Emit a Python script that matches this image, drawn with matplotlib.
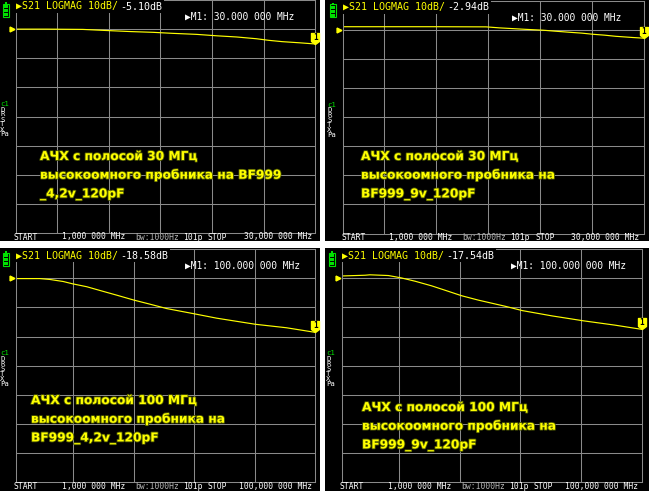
import matplotlib
matplotlib.use("Agg")
import matplotlib.pyplot as plt
import matplotlib.patheffects as pe
from matplotlib.patches import Rectangle
from matplotlib.path import Path
from matplotlib.transforms import blended_transform_factory

W, H = 649, 491

# S21 traces (MHz, dB)
freq_30_4v = [1, 4, 7.5, 9.3, 12.2, 14.3, 16.2, 18.5, 20.5, 22.4, 24.3, 25.5, 26.8, 28.5, 30]
s21_30_4v = [0.0, 0.0, -0.1, -0.4, -0.85, -1.1, -1.45, -1.8, -2.3, -2.7, -3.3, -3.85, -4.3, -4.7, -5.10]

freq_30_9v = [1, 5, 10, 14.8, 16.1, 18.6, 20.3, 21.5, 22.8, 24, 25.1, 26.2, 27.3, 28.9, 30]
s21_30_9v = [1.0, 1.0, 1.0, 0.95, 0.6, 0.1, -0.2, -0.55, -0.9, -1.2, -1.6, -1.9, -2.3, -2.7, -2.94]

freq_100_4v = [1, 9, 12.3, 16.7, 19.8, 24.5, 28.9, 34.4, 40.1, 45.4, 50.9, 60, 67.4, 80.2, 90.5, 100]
s21_100_4v = [-0.1, -0.1, -0.4, -1.1, -1.9, -2.9, -4.2, -5.8, -7.5, -8.9, -10.4, -12.2, -13.7, -15.8, -17.0, -18.58]

freq_100_9v = [1, 8.7, 10.3, 16.4, 20.6, 25.2, 30.7, 35.1, 40.6, 46.1, 54.9, 60.6, 70.3, 80.7, 91.2, 100]
s21_100_9v = [0.8, 1.05, 1.2, 0.95, 0.15, -1.0, -2.6, -4.1, -6.0, -7.5, -9.6, -11.1, -12.9, -14.6, -16.1, -17.54]

gridf_30 = [5, 10, 15, 20, 25]
gridf_100 = [20, 40, 60, 80]

notes_30_4v = ["АЧХ с полосой 30 МГц", "высокоомного пробника на BF999", "_4,2v_120pF"]
notes_30_9v = ["АЧХ с полосой 30 МГц", "высокоомного пробника на", "BF999_9v_120pF"]
notes_100_4v = ["АЧХ с полосой 100 МГц", "высокоомного пробника на", "BF999_4,2v_120pF"]
notes_100_9v = ["АЧХ с полосой 100 МГц", "высокоомного пробника на", "BF999_9v_120pF"]

side_labels = ["D", "R", "S", "T", "X", "Pa"]
points = 101

YEL = "#ffff00"
GRID = "#8a8a8a"
GREEN = "#00e000"
MONO = ["DejaVu Sans Mono", "DejaVu Sans"]

# (freqs, s21, grid freqs, notes, panel px box, grid px box, note x / first baseline)
screens = [
    (freq_30_4v, s21_30_4v, gridf_30, notes_30_4v, (0, 0, 319.5, 241), (15.7, 0, 315.3, 233), (40, 160)),
    (freq_30_9v, s21_30_9v, gridf_30, notes_30_9v, (325, 0, 649, 241), (342.7, 0.5, 644, 233.5), (361, 160)),
    (freq_100_4v, s21_100_4v, gridf_100, notes_100_4v, (0, 248, 319.5, 491), (15.7, 249.2, 315.3, 482), (31, 404)),
    (freq_100_9v, s21_100_9v, gridf_100, notes_100_9v, (325, 248, 649, 491), (341.7, 249.2, 641.7, 482), (362, 411)),
]

flag = Path([(0, 0), (-4, 3), (-4, 11), (4, 11), (4, 3), (0, 0)],
            [Path.MOVETO, Path.LINETO, Path.LINETO, Path.LINETO, Path.LINETO, Path.CLOSEPOLY])


def px_axes(fig, x0, y0, x1, y1, z):
    return fig.add_axes([x0 / W, 1 - y1 / H, (x1 - x0) / W, (y1 - y0) / H], zorder=z)


fig = plt.figure(figsize=(W / 100, H / 100), dpi=100, facecolor="white")

for freqs, s21, gridf, notes, pbox, gbox, npos in screens:
    px0, py0, px1, py1 = pbox
    gx0, gy0, gx1, gy1 = gbox

    bg = px_axes(fig, px0, py0, px1, py1, 0)
    bg.set_facecolor("black")
    bg.set_xticks([])
    bg.set_yticks([])
    for sp in bg.spines.values():
        sp.set_visible(False)

    ax = px_axes(fig, gx0, gy0, gx1, gy1, 1)
    ax.set_facecolor("none")
    start, stop = freqs[0], freqs[-1]
    ax.set_xlim(start, stop)
    ax.set_ylim(-70, 10)
    ax.set_xticks(gridf)
    ax.set_yticks(range(-60, 10, 10))
    ax.tick_params(length=0, labelbottom=False, labelleft=False)
    ax.grid(True, color=GRID, lw=0.75)
    for sp in ax.spines.values():
        sp.set_color(GRID)
        sp.set_linewidth(0.75)

    ax.plot(freqs, s21, color=YEL, lw=0.85)
    ref_tr = blended_transform_factory(ax.transAxes, ax.transData)
    ax.plot([-0.011], [0], marker=">", ms=3.5, color=YEL, transform=ref_tr, clip_on=False)
    ax.plot([freqs[-1]], [s21[-1]], marker=flag, ms=15.8, color=YEL, clip_on=False, zorder=5)
    ax.annotate("1", xy=(freqs[-1], s21[-1]), xytext=(0, 4.9), textcoords="offset points",
                ha="center", va="center", fontsize=5.5, fontweight="bold", color="black",
                family=MONO, zorder=6, annotation_clip=False)

    # overlay in pixel units, origin at grid top-left, y downwards
    ov = px_axes(fig, px0, py0, px1, py1, 2)
    ov.set_facecolor("none")
    ov.set_xlim(px0 - gx0, px1 - gx0)
    ov.set_ylim(py1 - gy0, py0 - gy0)
    ov.axis("off")

    # battery
    ov.add_patch(Rectangle((-11.0, 2.2), 2.6, 1.4, fc=GREEN, ec="none"))
    ov.add_patch(Rectangle((-12.6, 3.6), 6.0, 13.2, fill=False, ec=GREEN, lw=0.8))
    for k in range(3):
        ov.add_patch(Rectangle((-11.6, 5.0 + k * 4.0), 4.0, 3.0, fc=GREEN, ec="none"))

    hdr_kw = dict(fontsize=7.2, family=MONO, va="center", ha="left")
    ov.text(0.3, 6.5, "\u25b6S21 LOGMAG 10dB/", color=YEL,
            bbox=dict(fc="black", ec="none", pad=1.2), **hdr_kw)
    ov.text(104.5, 6.5, f"{s21[-1]:.2f}dB", color="white",
            bbox=dict(fc="black", ec="none", pad=1.2), **hdr_kw)
    ov.text(169.3, 16.7, f"\u25b6M1: {stop}.000 000 MHz", color="white",
            fontsize=6.9, family=MONO, va="center", ha="left")

    ov.text(-15.5, 104.2, "c1", color=GREEN, fontsize=5.2, family=MONO, va="center", ha="left")
    for k, lab in enumerate(side_labels):
        ov.text(-15.5, 109.5 + k * 5.0, lab, color="white", fontsize=5.2, family=MONO,
                va="center", ha="left")

    bot_kw = dict(fontsize=5.8, family=MONO, va="center")
    yb = 237
    ov.text(-1.7, yb, "START", color="white", ha="left", **bot_kw)
    ov.text(46.3, yb, f"{start},000 000 MHz", color="white", ha="left", **bot_kw)
    ov.text(119.3, yb, "bw:1000Hz", color="#b4b4b4", ha="left", **bot_kw)
    ov.text(167.3, yb, f"{points}p", color="white", ha="left", **bot_kw)
    ov.text(192.3, yb, "STOP", color="white", ha="left", **bot_kw)
    ov.text(296.3, yb, f"{stop},000 000 MHz", color="white", ha="right", **bot_kw)

    nx, ny = npos
    for k, line in enumerate(notes):
        fig.text(nx / W, 1 - (ny + k * 18.7) / H, line, color=YEL, fontsize=8.8,
                 fontweight="bold", family="DejaVu Sans", ha="left", va="baseline", zorder=10,
                 path_effects=[pe.withStroke(linewidth=1.2, foreground="#4f5a00")])

fig.savefig("out.png", dpi=100, facecolor="white")
